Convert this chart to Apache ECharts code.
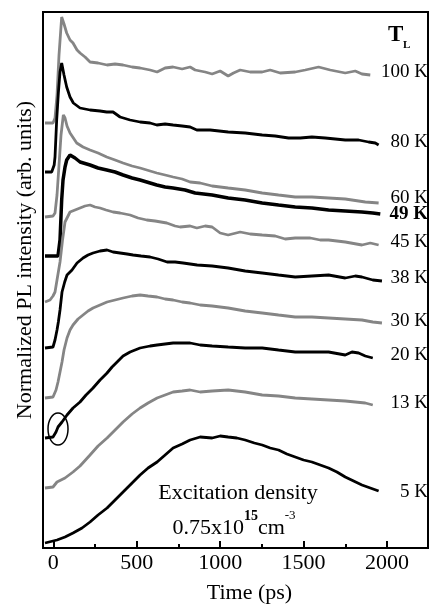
<!DOCTYPE html>
<html>
<head>
<meta charset="utf-8">
<script src="https://cdn.jsdelivr.net/npm/echarts@6/dist/echarts.min.js"></script>
<style>
  html, body { margin: 0; padding: 0; background: #fff; }
  #chart { width: 433px; height: 606px; }
</style>
</head>
<body>
<div id="chart"></div>
<script>
// time axis (ps) and offset PL curves (arb. units, each curve shifted vertically)
const timeMin = -62;
const timeMax = 2246;
const majorTicks = [0, 500, 1000, 1500, 2000];
const minorTicks = [250, 750, 1250, 1750];

const curve100K = [[-50,425],[-2,425],[10,430],[22,453],[34,493],[50,531],[64,524],[80,515],[100,508],[118,505],[142,498],[160,495],[190,491],[220,486],[268,485],[322,483],[370,484],[418,483],[472,481],[520,480],[580,478],[622,476],[670,480],[718,481],[772,479],[820,481],[850,478],[910,476],[952,474],[1000,477],[1048,472],[1080,475],[1120,478],[1180,476],[1252,476],[1300,478],[1360,475],[1450,476],[1510,478],[1590,481],[1660,478],[1750,475],[1810,477],[1850,474],[1900,473]];
const curve80K = [[-50,376],[-10,376],[5,383],[10,391],[20,428],[30,455],[40,476],[50,485],[64,473],[80,461],[100,451],[120,445],[160,440],[220,438],[280,437],[320,436],[358,436],[400,431],[460,428],[520,426],[580,425],[620,423],[670,424],[718,423],[772,422],[820,421],[860,418],[940,418],[1048,416],[1150,415],[1252,413],[1330,412],[1410,410],[1480,410],[1550,411],[1630,410],[1750,408],[1830,408],[1890,406],[1930,405],[1950,403]];
const curve60K = [[-50,331],[-2,332],[10,335],[22,353],[34,383],[46,413],[60,433],[70,430],[82,422],[100,415],[140,405],[178,401],[220,398],[268,395],[320,391],[370,388],[418,385],[472,382],[520,380],[580,377],[620,375],[670,373],[718,371],[772,369],[820,366],[880,365],[952,362],[1048,360],[1150,358],[1252,355],[1350,353],[1450,351],[1550,351],[1650,350],[1750,349],[1790,348],[1870,346],[1950,345]];
const curve49K = [[-50,292],[28,292],[40,308],[50,348],[58,368],[70,381],[80,388],[100,393],[130,390],[160,386],[220,383],[268,380],[320,378],[370,376],[418,373],[472,370],[520,368],[580,365],[620,363],[670,361],[718,360],[790,358],[850,355],[952,353],[1048,350],[1150,348],[1252,345],[1350,343],[1450,341],[1550,340],[1650,338],[1750,337],[1850,336],[1915,335],[1960,334]];
const curve45K = [[-50,246],[-20,248],[-2,252],[10,256],[22,268],[40,286],[55,308],[70,326],[100,336],[130,338],[160,340],[190,342],[220,343],[250,341],[280,340],[316,338],[358,336],[400,335],[460,333],[508,330],[560,328],[610,327],[680,325],[730,322],[760,321],[820,322],[860,320],[910,322],[952,321],[1000,315],[1048,313],[1120,316],[1180,314],[1252,313],[1330,312],[1390,309],[1450,310],[1540,310],[1600,308],[1650,308],[1750,306],[1850,303],[1900,305],[1950,303]];
const curve38K = [[-50,200],[-2,201],[10,208],[22,218],[30,226],[40,238],[52,256],[68,266],[82,273],[112,278],[142,285],[178,290],[208,293],[238,295],[280,297],[322,298],[358,296],[400,295],[442,294],[478,293],[526,292],[580,291],[628,289],[682,286],[730,286],[778,285],[820,284],[862,283],[952,282],[1048,280],[1150,277],[1252,275],[1350,273],[1450,271],[1550,272],[1650,273],[1750,270],[1810,272],[1850,271],[1915,268],[1970,267]];
const curve30K = [[-50,150],[-2,151],[16,158],[28,166],[40,176],[52,186],[64,198],[82,210],[100,218],[118,223],[148,229],[178,233],[208,237],[238,240],[280,243],[322,246],[370,248],[418,250],[472,252],[520,253],[568,252],[622,251],[670,249],[718,248],[772,246],[820,245],[880,243],[952,242],[1048,240],[1150,237],[1252,235],[1350,233],[1450,231],[1550,231],[1650,230],[1750,229],[1850,228],[1915,226],[1970,225]];
const curve20K = [[-50,110],[-2,111],[16,116],[28,121],[52,126],[82,133],[118,140],[160,146],[196,153],[238,160],[280,168],[322,175],[352,181],[382,186],[418,192],[460,196],[520,200],[580,202],[622,203],[670,204],[718,205],[778,205],[820,205],[880,203],[952,202],[1048,201],[1150,200],[1252,200],[1350,198],[1450,196],[1550,196],[1650,196],[1750,193],[1790,196],[1830,195],[1870,192],[1915,190]];
const curve13K = [[-50,60],[-2,61],[22,66],[70,70],[118,76],[160,82],[220,93],[268,102],[322,110],[370,118],[418,126],[472,134],[520,140],[568,145],[622,150],[670,153],[718,156],[772,157],[820,158],[880,156],[952,157],[1048,158],[1150,156],[1252,153],[1350,152],[1450,150],[1550,149],[1650,148],[1750,147],[1810,146],[1870,145],[1915,143]];
const curve5K = [[-50,5],[22,8],[70,11],[118,15],[172,20],[220,26],[268,33],[322,40],[370,48],[418,56],[472,65],[520,73],[568,80],[622,86],[670,93],[718,100],[772,104],[820,108],[880,111],[952,110],[1000,112],[1048,111],[1100,110],[1150,108],[1205,105],[1252,103],[1300,100],[1350,98],[1400,94],[1450,91],[1500,88],[1550,86],[1600,83],[1650,80],[1700,76],[1750,71],[1800,67],[1850,63],[1900,60],[1950,57]];

const tempLabels = ['100 K', '80 K', '60 K', '49 K', '45 K', '38 K', '30 K', '20 K', '13 K', '5 K'];
const labelLevels = [476, 406, 350, 334, 306, 270, 227, 193, 145, 56];
const curves = [curve100K, curve80K, curve60K, curve49K, curve45K, curve38K, curve30K, curve20K, curve13K, curve5K];
const curveColors = ['#858585', '#000', '#858585', '#000', '#858585', '#000', '#858585', '#000', '#858585', '#000'];

const FONT = '"Liberation Serif", "Times New Roman", serif';

const chart = echarts.init(document.getElementById('chart'));

chart.setOption({
  animation: false,
  backgroundColor: '#fff',
  grid: {
    left: 43, right: 5, top: 12, bottom: 58,
    show: true, borderColor: '#000', borderWidth: 2,
    outerBoundsMode: 'none'
  },
  xAxis: [
    {
      type: 'value', min: timeMin, max: timeMax, position: 'bottom',
      axisLine: { show: true, onZero: false, lineStyle: { color: '#000', width: 2 } },
      axisTick: { show: true, inside: true, length: 7, customValues: majorTicks, lineStyle: { color: '#000', width: 2 } },
      axisLabel: { customValues: majorTicks, formatter: v => String(v), color: '#000', fontSize: 22, fontFamily: FONT, margin: 4 },
      splitLine: { show: false },
      name: 'Time (ps)', nameLocation: 'middle', nameGap: 34,
      nameTextStyle: { color: '#000', fontSize: 22, fontFamily: FONT, padding: [0, 0, 0, 28] }
    },
    {
      type: 'value', min: timeMin, max: timeMax, position: 'bottom',
      axisLine: { show: true, onZero: false, lineStyle: { color: '#000', width: 2 } },
      axisTick: { show: true, inside: true, length: 4, customValues: minorTicks, lineStyle: { color: '#000', width: 2 } },
      axisLabel: { show: false },
      splitLine: { show: false }
    }
  ],
  yAxis: {
    type: 'value', min: 0, max: 536,
    axisLine: { show: false, onZero: false },
    axisTick: { show: false },
    axisLabel: { show: false },
    splitLine: { show: false },
    name: 'Normalized PL intensity (arb. units)', nameLocation: 'middle', nameGap: 7, nameRotate: 90,
    nameTextStyle: { color: '#000', fontSize: 22, fontFamily: FONT, padding: [0, 0, 0, 40] }
  },
  series: curves.map((c, i) => ({
    name: tempLabels[i],
    type: 'line',
    data: c,
    showSymbol: false,
    smooth: false,
    lineStyle: { color: curveColors[i], width: i === 3 ? 3.5 : 2.8 },
    z: 2 + i
  }))
});

// text annotations positioned via the chart's own axes
const xRight = chart.convertToPixel({ xAxisIndex: 0 }, timeMax);
const graphics = tempLabels.map((t, i) => ({
  type: 'text',
  z: 100,
  style: {
    x: xRight, y: chart.convertToPixel({ yAxisIndex: 0 }, labelLevels[i]),
    text: t, align: 'right', verticalAlign: 'middle',
    fill: '#000', fontSize: 19, fontFamily: FONT,
    fontWeight: i === 3 ? 'bold' : 'normal'
  }
}));

graphics.push({
  type: 'text', z: 100,
  style: { x: 388, y: 35, text: 'T', verticalAlign: 'middle', fill: '#000', fontSize: 23, fontWeight: 'bold', fontFamily: FONT }
});
graphics.push({
  type: 'text', z: 100,
  style: { x: 403, y: 45, text: 'L', verticalAlign: 'middle', fill: '#000', fontSize: 11, fontWeight: 'bold', fontFamily: FONT }
});
graphics.push({
  type: 'text', z: 100,
  style: { x: 238, y: 493, text: 'Excitation density', align: 'center', verticalAlign: 'middle', fill: '#000', fontSize: 22, fontFamily: FONT }
});
graphics.push({
  type: 'text', z: 100,
  style: {
    x: 234, y: 524, align: 'center', verticalAlign: 'middle', fill: '#000',
    text: '{n|0.75x10}{s|15}{n|cm}{t|-3}',
    rich: {
      n: { fontSize: 22, fontFamily: FONT, lineHeight: 30, verticalAlign: 'bottom' },
      s: { fontSize: 14, fontFamily: FONT, fontWeight: 'bold', lineHeight: 30, verticalAlign: 'top' },
      t: { fontSize: 13, fontFamily: FONT, lineHeight: 30, verticalAlign: 'top' }
    }
  }
});

// small ellipse marking the onset of the 20 K curve
const ell = chart.convertToPixel({ xAxisIndex: 0, yAxisIndex: 0 }, [28, 119]);
graphics.push({
  type: 'ellipse', z: 100,
  shape: { cx: ell[0], cy: ell[1], rx: 10, ry: 16 },
  style: { fill: 'none', stroke: '#000', lineWidth: 1.5 }
});

chart.setOption({ graphic: graphics });
</script>
</body>
</html>
